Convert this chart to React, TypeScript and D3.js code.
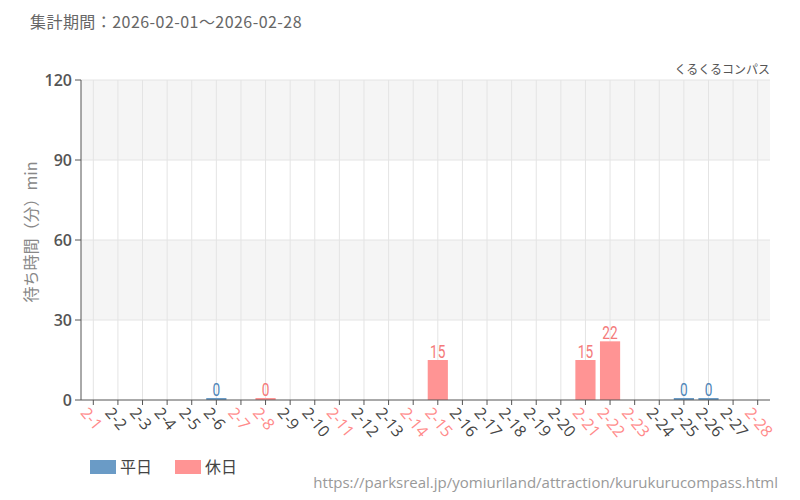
import React from "react";
import * as d3 from "d3";

const categories = ["2-1","2-2","2-3","2-4","2-5","2-6","2-7","2-8","2-9","2-10","2-11","2-12","2-13","2-14","2-15","2-16","2-17","2-18","2-19","2-20","2-21","2-22","2-23","2-24","2-25","2-26","2-27","2-28"];
const holidays = ["2-1","2-7","2-8","2-11","2-14","2-15","2-21","2-22","2-23","2-28"];
const dataDays = ["2-6","2-8","2-15","2-21","2-22","2-25","2-26"];
const dataValues = [0, 0, 15, 15, 22, 0, 0];
const yTicks = [0, 30, 60, 90, 120];

const W = 800, H = 500;
const M = { left: 81, right: 770, top: 80, bottom: 400 };
const BLUE = "#6a9bc6";
const BLUE_TXT = "#4f86b8";
const RED = "#ff9494";
const RED_TXT = "#f47a7a";
const JP = "'Noto Sans CJK JP', 'Noto Sans', sans-serif";

export default function App() {
  const x = d3.scaleBand<string>().domain(categories).range([M.left, M.right]).paddingInner(0.18).paddingOuter(0.09);
  const y = d3.scaleLinear().domain([0, 120]).range([M.bottom, M.top]);
  const cx = (c: string) => (x(c) as number) + x.bandwidth() / 2;
  const isHol = (c: string) => holidays.includes(c);

  return (
    <svg width={W} height={H} style={{ display: "block", position: "absolute", left: 0, top: 0 }}>
      <rect width={W} height={H} fill="#fff" />
      <text x={30} y={28} fontFamily={JP} fontSize={16} letterSpacing={0.45} fill="#666">集計期間：2026-02-01～2026-02-28</text>
      <text x={M.right} y={74} textAnchor="end" fontFamily={JP} fontSize={12} fill="#555">くるくるコンパス</text>
      {[0, 1, 2, 3].map(i => (
        <rect key={i} x={M.left} width={M.right - M.left} y={y(yTicks[i + 1])} height={y(yTicks[i]) - y(yTicks[i + 1])}
          fill={i % 2 === 1 ? "#f5f5f5" : "#ffffff"} />
      ))}
      {categories.map(c => (
        <line key={c} x1={cx(c)} x2={cx(c)} y1={M.top} y2={M.bottom} stroke="#e4e4e4" strokeWidth={1} />
      ))}
      {yTicks.slice(1).map(t => (
        <line key={t} x1={M.left} x2={M.right} y1={y(t)} y2={y(t)} stroke="#e4e4e4" strokeWidth={1} />
      ))}
      {dataDays.map((d, i) => {
        const v = dataValues[i];
        const hol = isHol(d);
        const top = y(v);
        const h = Math.max(M.bottom - top, 2);
        return (
          <g key={d}>
            <rect x={x(d)} width={x.bandwidth()} y={M.bottom - h} height={h} fill={hol ? RED : BLUE} />
            <text x={cx(d)} y={M.bottom - h - 2} textAnchor="middle" fontFamily="'Roboto', sans-serif"
              fontSize={19} fill={hol ? RED_TXT : BLUE_TXT} transform={`translate(${cx(d)},0) scale(0.72,1) translate(${-cx(d)},0)`}>{v}</text>
          </g>
        );
      })}
      <line x1={M.left} x2={M.left} y1={M.top} y2={M.bottom} stroke="#555" />
      <line x1={M.left} x2={M.right} y1={M.bottom} y2={M.bottom} stroke="#555" />
      {yTicks.map(t => (
        <g key={t}>
          <line x1={M.left - 6} x2={M.left} y1={y(t)} y2={y(t)} stroke="#555" />
          <text x={M.left - 9} y={y(t)} dy="0.35em" textAnchor="end" fontFamily="'Open Sans', sans-serif" fontSize={16} fontWeight={600} fill="#555">{t}</text>
        </g>
      ))}
      {categories.map(c => (
        <g key={c}>
          <line x1={cx(c)} x2={cx(c)} y1={M.bottom} y2={M.bottom + 5} stroke="#555" />
          <text transform={`translate(${cx(c) - 5},${M.bottom + 6}) rotate(50)`} textAnchor="start" dy="0.7em"
            fontFamily="'Open Sans', sans-serif" fontSize={16} fill={isHol(c) ? "#ff8a8a" : "#444"}>{c}</text>
        </g>
      ))}
      <text transform={`translate(37,${232}) rotate(-90)`} textAnchor="middle" fontFamily={JP} fontSize={16} fill="#888">待ち時間（分）min</text>
      <rect x={90} y={460} width={26} height={14} fill={BLUE} />
      <text x={120} y={467} dy="0.35em" fontFamily={JP} fontSize={16} fill="#444">平日</text>
      <rect x={175} y={460} width={26} height={14} fill={RED} />
      <text x={205} y={467} dy="0.35em" fontFamily={JP} fontSize={16} fill="#444">休日</text>
      <text x={778} y={488} textAnchor="end" fontFamily="'Open Sans', sans-serif" fontSize={15} fill="#999">https://parksreal.jp/yomiuriland/attraction/kurukurucompass.html</text>
    </svg>
  );
}
